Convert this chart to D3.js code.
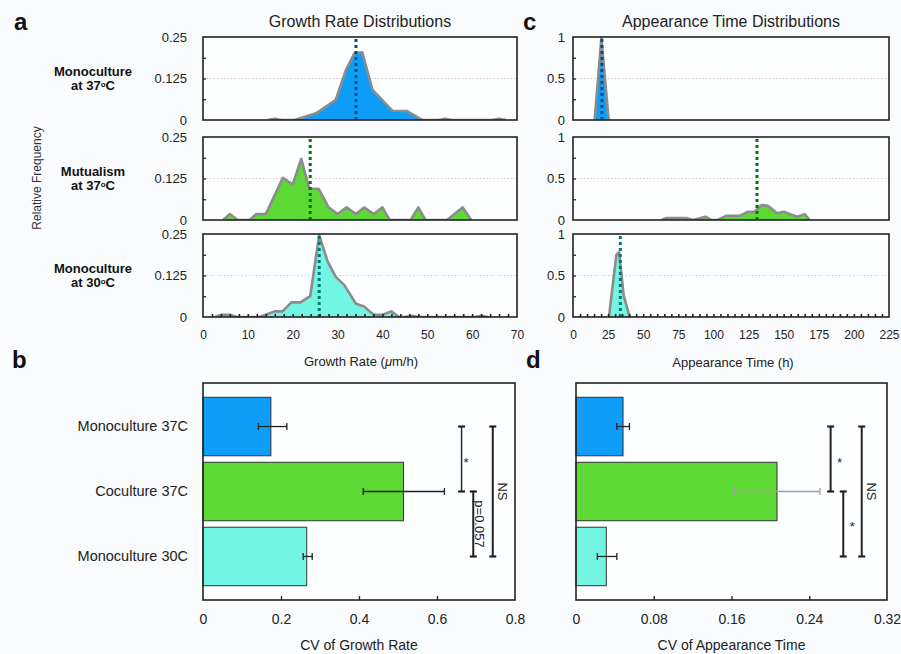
<!DOCTYPE html>
<html>
<head>
<meta charset="utf-8">
<script src="https://cdn.jsdelivr.net/npm/d3@7"></script>
<style>
body { margin: 0; background: #f9fbfc; }
svg { display: block; font-family: "Liberation Sans", Arial, Helvetica, sans-serif; }
</style>
</head>
<body>
<svg id="fig" width="901" height="654"></svg>
<script>
// categories
const conditions = ["Monoculture 37C", "Coculture 37C", "Monoculture 30C"]
const rowNames = ["Monoculture", "Mutualism", "Monoculture"]
const rowTemps = ["at 37", "at 37", "at 30"]
const fillColors = ["#0f9ef7", "#5cd934", "#72f5e3"]
const meanColors = ["#00507f", "#007a00", "#007a70"]

// growth rate distributions [growth rate, relative frequency]
const growthMono37 = [[14.5, 0], [16, 0.004], [17.5, 0], [20.4, 0], [25.2, 0.020], [29.6, 0.061], [31.9, 0.152],
    [33.8, 0.202], [35.5, 0.204], [37.8, 0.091], [42.2, 0.028], [45.5, 0.027], [48.9, 0], [52.5, 0],
    [54, 0.004], [55.5, 0], [64.5, 0], [66, 0.004], [67.5, 0]]
const growthMutual37 = [[4.5, 0], [6, 0.018], [7.7, 0], [10.4, 0], [11.9, 0.018], [14, 0.018], [17.8, 0.127],
    [20, 0.107], [21.9, 0.184], [23.7, 0.094], [25.8, 0.094], [28, 0.038], [30, 0.018], [32, 0.038],
    [34.1, 0.018], [35.9, 0.038], [38.1, 0.018], [40, 0.038], [41.6, 0], [46.3, 0], [48, 0.038],
    [49.6, 0], [54.4, 0], [57.9, 0.038], [59.8, 0]]
const growthMono30 = [[2.7, 0], [4.1, 0.007], [6, 0.007], [7.5, 0], [12.6, 0], [16, 0.017], [17.7, 0.017],
    [19.7, 0.044], [21.7, 0.044], [23.9, 0.063], [25.9, 0.246], [27.8, 0.167], [29.6, 0.121],
    [31.5, 0.096], [34.1, 0.040], [35.9, 0.032], [38, 0.007], [40, 0.007], [42, 0.017], [43.7, 0],
    [45, 0], [46.5, 0.004], [48, 0], [60.5, 0], [62, 0.004], [63.5, 0]]
const growthMeans = [34.1, 23.9, 25.9]

// appearance time distributions [time (h), relative frequency]
const timeMono37 = [[15.4, 0], [20.2, 0.99], [25.4, 0]]
const timeMutual37 = [[62.9, 0], [66.5, 0.024], [80.7, 0.024], [85.4, 0], [90.2, 0.02], [94.5, 0.04],
    [98.5, 0], [103, 0], [109, 0.05], [118.7, 0.05], [124.6, 0.10], [129.4, 0.10], [134.1, 0.18],
    [138.9, 0.17], [145.3, 0.08], [150, 0.10], [159.5, 0.04], [165, 0.07], [168.5, 0]]
const timeMono30 = [[25.6, 0], [30.9, 0.75], [32.8, 0.78], [36.1, 0.26], [40.4, 0]]
const timeMeans = [20.6, 131, 33.7]

// CV bars
const cvGrowth = [0.174, 0.514, 0.266]
const cvGrowthLow = [0.142, 0.411, 0.257]
const cvGrowthHigh = [0.215, 0.619, 0.280]
const cvTime = [0.0484, 0.2068, 0.0312]
const cvTimeLow = [0.042, 0.163, 0.022]
const cvTimeHigh = [0.055, 0.251, 0.042]

// significance brackets: category index from/to, x position in data units
const growthBrackets = [
    {from: 0, to: 1, at: 0.663, label: "*"},
    {from: 1, to: 2, at: 0.693, label: "p=0.057"},
    {from: 0, to: 2, at: 0.743, label: "NS"}
]
const timeBrackets = [
    {from: 0, to: 1, at: 0.262, label: "*"},
    {from: 1, to: 2, at: 0.275, label: "*"},
    {from: 0, to: 2, at: 0.294, label: "NS"}
]

// ticks
const growthTicks = [0, 10, 20, 30, 40, 50, 60, 70]
const timeTicks = [0, 25, 50, 75, 100, 125, 150, 175, 200, 225]
const growthFreqTicks = [0, 0.125, 0.25]
const timeFreqTicks = [0, 0.5, 1]
const cvGrowthTicks = [0, 0.2, 0.4, 0.6, 0.8]
const cvTimeTicks = [0, 0.08, 0.16, 0.24, 0.32]

const svg = d3.select("#fig")
const rowTops = [37, 137, 234]
const rowH = 83

function panelLetter(letter, x, y) {
    svg.append("text").attr("x", x).attr("y", y)
        .attr("font-size", 24).attr("font-weight", "bold").attr("fill", "#111")
        .text(letter)
}

function drawDist(x, i, series, mean, yMax, yTicks, yFmt, labelPad, minorStep, showX, clipId) {
    const top = rowTops[i]
    const bottom = top + rowH
    const [x0, x1] = x.range()
    const y = d3.scaleLinear().domain([0, yMax]).range([bottom, top])
    const g = svg.append("g")

    g.append("rect").attr("x", x0).attr("y", top).attr("width", x1 - x0).attr("height", rowH)
        .attr("fill", "#fdfeff")

    g.append("line").attr("x1", x0).attr("x2", x1).attr("y1", y(yMax / 2)).attr("y2", y(yMax / 2))
        .attr("stroke", "#dcc6c6").attr("stroke-width", 1).attr("stroke-dasharray", "1.5,2")

    g.append("clipPath").attr("id", clipId)
        .append("rect").attr("x", x0).attr("y", top).attr("width", x1 - x0).attr("height", rowH)
    const inner = g.append("g").attr("clip-path", `url(#${clipId})`)

    const area = d3.area().x(d => x(d[0])).y0(bottom).y1(d => y(d[1]))
    const line = d3.line().x(d => x(d[0])).y(d => y(d[1]))
    inner.append("path").datum(series).attr("d", area).attr("fill", fillColors[i])
    inner.append("path").datum(series).attr("d", line).attr("fill", "none")
        .attr("stroke", "#8c8c8c").attr("stroke-width", 2.6).attr("stroke-linejoin", "round")

    inner.append("line").attr("x1", x(mean)).attr("x2", x(mean)).attr("y1", bottom).attr("y2", top + 1)
        .attr("stroke", meanColors[i]).attr("stroke-width", 3).attr("stroke-dasharray", "3,3")

    if (showX) {
        const minor = d3.range(minorStep, x.domain()[1], minorStep)
        g.append("g").attr("transform", `translate(0,${bottom})`)
            .call(d3.axisTop(x).tickValues(minor).tickSize(3).tickFormat(""))
            .call(a => a.select(".domain").remove())
            .call(a => a.selectAll("line").attr("stroke", "#222").attr("stroke-width", 1.6))
        g.append("g").attr("transform", `translate(0,${bottom})`)
            .call(d3.axisBottom(x).tickValues(x === growthX ? growthTicks : timeTicks).tickSize(0).tickPadding(13.5))
            .call(a => a.select(".domain").remove())
            .call(a => a.selectAll("text").attr("font-size", 12).attr("fill", "#222")
                .attr("font-family", "Liberation Sans, Arial, sans-serif"))
    }

    // inward minor ticks on left side
    g.append("g").attr("transform", `translate(${x0},0)`)
        .call(d3.axisRight(y).tickValues([yMax / 4, yMax / 2, 3 * yMax / 4]).tickSize(3).tickFormat(""))
        .call(a => a.select(".domain").remove())
        .call(a => a.selectAll("line").attr("stroke", "#222").attr("stroke-width", 1.3))

    g.append("g").attr("transform", `translate(${x0},0)`)
        .call(d3.axisLeft(y).tickValues(yTicks).tickSize(0).tickPadding(labelPad).tickFormat(yFmt))
        .call(a => a.select(".domain").remove())
        .call(a => a.selectAll("text").attr("font-size", 13).attr("fill", "#222")
            .attr("font-family", "Liberation Sans, Arial, sans-serif"))

    g.append("rect").attr("x", x0).attr("y", top).attr("width", x1 - x0).attr("height", rowH)
        .attr("fill", "none").attr("stroke", "#222").attr("stroke-width", 1.6)
}

const growthX = d3.scaleLinear().domain([0, 70]).range([203, 517])
const timeX = d3.scaleLinear().domain([0, 225]).range([573, 889])

const growthSeries = [growthMono37, growthMutual37, growthMono30]
const timeSeries = [timeMono37, timeMutual37, timeMono30]

growthSeries.forEach((s, i) => drawDist(growthX, i, s, growthMeans[i], 0.25, growthFreqTicks,
    d => String(d), 16, 2, i === 2, "clipA" + i))
timeSeries.forEach((s, i) => drawDist(timeX, i, s, timeMeans[i], 1, timeFreqTicks,
    d => String(d), 8, 5, i === 2, "clipC" + i))

// row labels
rowNames.forEach((name, i) => {
    svg.append("text").attr("text-anchor", "middle").attr("font-weight", "bold")
        .attr("font-size", 13).attr("fill", "#111")
        .attr("x", 93).attr("y", rowTops[i] + 39).text(name)
    const t2 = svg.append("text").attr("text-anchor", "middle").attr("font-weight", "bold")
        .attr("font-size", 13).attr("fill", "#111").attr("x", 93).attr("y", rowTops[i] + 53)
    t2.append("tspan").text(rowTemps[i])
    t2.append("tspan").attr("font-size", 8).attr("dy", -3).text("o")
    t2.append("tspan").attr("dy", 3).text("C")
})

svg.append("text").attr("transform", "translate(37,178) rotate(-90)")
    .attr("text-anchor", "middle").attr("dy", "0.35em").attr("font-size", 12).attr("fill", "#333")
    .text("Relative Frequency")

svg.append("text").attr("x", 360).attr("y", 27).attr("text-anchor", "middle")
    .attr("font-size", 16).attr("fill", "#222").text("Growth Rate Distributions")
svg.append("text").attr("x", 731).attr("y", 27).attr("text-anchor", "middle")
    .attr("font-size", 16).attr("fill", "#222").text("Appearance Time Distributions")

const grTitle = svg.append("text").attr("x", 361).attr("y", 366).attr("text-anchor", "middle")
    .attr("font-size", 13).attr("fill", "#222")
grTitle.append("tspan").text("Growth Rate (")
grTitle.append("tspan").attr("font-style", "italic").text("μ")
grTitle.append("tspan").text("m/h)")
svg.append("text").attr("x", 733).attr("y", 367).attr("text-anchor", "middle")
    .attr("font-size", 13).attr("fill", "#222").text("Appearance Time (h)")

// bar panels
function drawBars(x0, x1, maxV, values, low, high, ticks, brackets, title, showCats, starDx, errColors) {
    const top = 383, bottom = 600
    const x = d3.scaleLinear().domain([0, maxV]).range([x0, x1])
    const y = d3.scaleBand().domain(conditions).range([top, bottom]).paddingInner(0.1).paddingOuter(0.22)
    const g = svg.append("g")

    g.append("rect").attr("x", x0).attr("y", top).attr("width", x1 - x0).attr("height", bottom - top)
        .attr("fill", "#fdfeff")

    g.selectAll(".bar").data(conditions).join("rect")
        .attr("x", x(0)).attr("y", d => y(d))
        .attr("width", (d, i) => x(values[i]) - x(0)).attr("height", y.bandwidth())
        .attr("fill", (d, i) => fillColors[i]).attr("stroke", "#333").attr("stroke-width", 1)

    conditions.forEach((c, i) => {
        const cy = y(c) + y.bandwidth() / 2
        const col = errColors[i]
        g.append("line").attr("x1", x(low[i])).attr("x2", x(high[i])).attr("y1", cy).attr("y2", cy)
            .attr("stroke", col).attr("stroke-width", 1.3)
        ;[low[i], high[i]].forEach(v => g.append("line").attr("x1", x(v)).attr("x2", x(v))
            .attr("y1", cy - 3.5).attr("y2", cy + 3.5).attr("stroke", col).attr("stroke-width", 1.3))
    })

    brackets.forEach(b => {
        const ya = y(conditions[b.from]) + y.bandwidth() / 2
        const yb = y(conditions[b.to]) + y.bandwidth() / 2
        const bx = x(b.at)
        const thin = b.label === "*" && starDx < 6
        const w = thin ? 1.4 : 2
        g.append("line").attr("x1", bx).attr("x2", bx).attr("y1", ya).attr("y2", yb)
            .attr("stroke", "#222").attr("stroke-width", w)
        ;[ya, yb].forEach(yy => g.append("line").attr("x1", bx - 3.5).attr("x2", bx + 3.5)
            .attr("y1", yy).attr("y2", yy).attr("stroke", "#222").attr("stroke-width", 2.2))
        const mid = (ya + yb) / 2
        if (b.label === "*") {
            g.append("text").attr("x", bx + starDx).attr("y", mid + 7.5).attr("text-anchor", "middle")
                .attr("font-size", 13).attr("fill", "#222").text("*")
        } else {
            const off = b.label === "NS" ? 5 : 2
            g.append("text").attr("transform", `translate(${bx + off},${mid}) rotate(90)`)
                .attr("text-anchor", "middle").attr("font-size", 13).attr("fill", "#222").text(b.label)
        }
    })

    g.append("g").attr("transform", `translate(0,${bottom})`)
        .call(d3.axisTop(x).tickValues(ticks.slice(1, -1)).tickSize(4).tickFormat(""))
        .call(a => a.select(".domain").remove())
        .call(a => a.selectAll("line").attr("stroke", "#222").attr("stroke-width", 1.3))
    g.append("g").attr("transform", `translate(0,${bottom})`)
        .call(d3.axisBottom(x).tickValues(ticks).tickSize(0).tickPadding(14).tickFormat(d => String(d)))
        .call(a => a.select(".domain").remove())
        .call(a => a.selectAll("text").attr("font-size", 14).attr("fill", "#222")
            .attr("font-family", "Liberation Sans, Arial, sans-serif"))

    if (showCats) {
        g.append("g").attr("transform", `translate(${x0},0)`)
            .call(d3.axisLeft(y).tickSize(0).tickPadding(15))
            .call(a => a.select(".domain").remove())
            .call(a => a.selectAll("text").attr("font-size", 14.5).attr("fill", "#222")
                .attr("font-family", "Liberation Sans, Arial, sans-serif"))
    }

    g.append("rect").attr("x", x0).attr("y", top).attr("width", x1 - x0).attr("height", bottom - top)
        .attr("fill", "none").attr("stroke", "#222").attr("stroke-width", 1.6)

    svg.append("text").attr("x", (x0 + x1) / 2).attr("y", 650).attr("text-anchor", "middle")
        .attr("font-size", 14).attr("fill", "#222").text(title)
}

drawBars(203, 515, 0.8, cvGrowth, cvGrowthLow, cvGrowthHigh, cvGrowthTicks, growthBrackets,
    "CV of Growth Rate", true, 4.5, ["#222", "#222", "#222"])
drawBars(576, 887, 0.32, cvTime, cvTimeLow, cvTimeHigh, cvTimeTicks, timeBrackets,
    "CV of Appearance Time", false, 9, ["#222", "#a0a0a0", "#222"])

panelLetter("a", 14, 30)
panelLetter("c", 523, 30)
panelLetter("b", 12, 368)
panelLetter("d", 526, 368)
</script>
</body>
</html>
